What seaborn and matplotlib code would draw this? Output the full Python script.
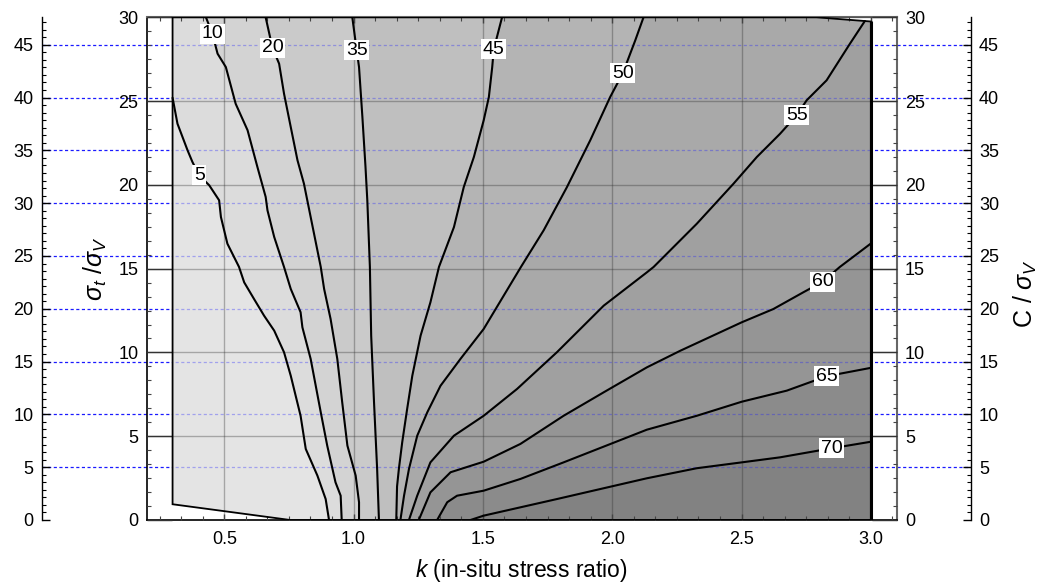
import numpy as np
import matplotlib
matplotlib.use("Agg")
import matplotlib.pyplot as plt
import seaborn as sns
from matplotlib.patches import Polygon
from matplotlib.ticker import MultipleLocator, FixedLocator
from matplotlib.transforms import blended_transform_factory

# ---------------- data ----------------
LEVELS = [5, 10, 20, 35, 45, 50, 55, 60, 65, 70]

C05_K = [0.300, 0.319, 0.358, 0.377, 0.403, 0.442, 0.480, 0.487, 0.512, 0.557, 0.577,
         0.615, 0.654, 0.693, 0.731, 0.757, 0.795, 0.815, 0.860, 0.892, 0.905]
C05_S = [25.20, 23.65, 22.06, 21.36, 20.57, 19.97, 19.08, 18.08, 16.49, 15.10, 14.18,
         13.19, 12.19, 11.30, 10.01, 8.61, 6.22, 4.24, 2.65, 1.25, 0.0]

C10_K = [0.429, 0.454, 0.474, 0.506, 0.544, 0.590, 0.628, 0.660, 0.667, 0.693, 0.731,
         0.757, 0.795, 0.802, 0.834, 0.873, 0.898, 0.930, 0.950, 0.954]
C10_S = [30.0, 29.02, 27.83, 27.03, 24.84, 23.26, 21.07, 19.28, 18.48, 16.89, 15.10,
         13.79, 12.40, 11.50, 9.61, 6.43, 4.44, 2.25, 1.45, 0.0]

C20_K = [0.660, 0.686, 0.712, 0.731, 0.757, 0.783, 0.808, 0.834, 0.873, 0.886, 0.911,
         0.937, 0.956, 0.976, 1.008, 1.021, 1.021]
C20_S = [30.0, 28.19, 27.23, 25.44, 23.45, 21.47, 20.07, 18.08, 15.10, 13.79, 12.00,
         9.61, 7.02, 4.44, 2.65, 1.06, 0.0]

C35_K = [0.995, 1.012, 1.021, 1.034, 1.046, 1.053, 1.063, 1.068, 1.079, 1.091, 1.098]
C35_S = [30.0, 28.03, 27.03, 24.05, 21.07, 19.08, 15.10, 11.00, 7.02, 3.04, 0.0]

C45_K = [1.574, 1.542, 1.536, 1.523, 1.503, 1.465, 1.426, 1.388, 1.330, 1.297, 1.259,
         1.227, 1.207, 1.188, 1.175, 1.168, 1.165]
C45_S = [30.0, 28.09, 27.03, 25.24, 23.85, 21.66, 19.87, 17.48, 15.10, 12.99, 11.00,
         8.61, 6.62, 4.64, 3.04, 2.00, 0.0]

C50_K = [2.121, 2.089, 2.041, 1.992, 1.915, 1.825, 1.735, 1.647, 1.503, 1.413, 1.336,
         1.285, 1.246, 1.214, 1.195, 1.181]
C50_S = [30.0, 28.62, 26.67, 25.24, 22.66, 19.87, 17.29, 15.10, 11.40, 9.61, 8.01,
         6.43, 5.03, 3.04, 1.45, 0.0]

C55_K = [2.977, 2.919, 2.829, 2.752, 2.713, 2.649, 2.559, 2.469, 2.327, 2.160, 2.134,
         1.967, 1.786, 1.632, 1.503, 1.388, 1.297, 1.246, 1.214]
C55_S = [29.78, 28.42, 26.24, 25.05, 24.15, 23.05, 21.66, 20.07, 17.68, 15.10, 14.78,
         12.79, 10.01, 7.82, 6.22, 5.03, 3.44, 1.45, 0.0]

C60_K = [3.000, 2.880, 2.814, 2.739, 2.623, 2.501, 2.263, 2.134, 1.967, 1.812, 1.645,
         1.503, 1.375, 1.297, 1.252]
C60_S = [16.50, 15.10, 14.22, 13.59, 12.59, 11.80, 10.10, 9.11, 7.62, 6.22, 4.54,
         3.48, 2.85, 1.65, 0.0]

C65_K = [3.000, 2.829, 2.675, 2.501, 2.327, 2.134, 1.812, 1.645, 1.503, 1.400, 1.362, 1.323]
C65_S = [9.08, 8.58, 7.72, 7.06, 6.22, 5.39, 3.44, 2.45, 1.75, 1.45, 1.06, 0.0]

C70_K = [3.000, 2.848, 2.649, 2.501, 2.327, 2.134, 1.786, 1.503, 1.452]
C70_S = [4.67, 4.28, 3.74, 3.44, 3.09, 2.49, 1.25, 0.26, 0.0]

# height (sigma_t/sigma_v) at which each contour carries its label
LABEL_S = [20.57, 29.02, 28.19, 28.03, 28.09, 26.67, 24.15, 14.22, 8.58, 4.28]

# outline of the computed region
DOMAIN_K = [0.30, 0.30, 2.79, 3.00, 3.00, 0.755]
DOMAIN_S = [0.94, 30.0, 30.0, 29.75, 0.0, 0.0]

X_TICKS = [0.5, 1.0, 1.5, 2.0, 2.5, 3.0]
X_LABELS = ["0.5", "1.0", "1.5", "2.0", "2.5", "3.0"]
Y_TICKS = [0, 5, 10, 15, 20, 25, 30]
C_TICKS = [0, 5, 10, 15, 20, 25, 30, 35, 40, 45]

# shading of the bands (lowest band first)
BAND_GREYS = ["#e4e4e4", "#dcdcdc", "#d3d3d3", "#cacaca", "#bfbfbf", "#b4b4b4",
              "#a9a9a9", "#a0a0a0", "#959595", "#8b8b8b", "#828282"]

LINES_K = [C05_K, C10_K, C20_K, C35_K, C45_K, C50_K, C55_K, C60_K, C65_K, C70_K]
LINES_S = [C05_S, C10_S, C20_S, C35_S, C45_S, C50_S, C55_S, C60_S, C65_S, C70_S]

# ---------------- style ----------------
sns.set_theme(style="white")
plt.rcParams["font.family"] = ["Liberation Sans", "DejaVu Sans"]
plt.rcParams["mathtext.fontset"] = "custom"
plt.rcParams["mathtext.rm"] = "Liberation Sans"
plt.rcParams["mathtext.it"] = "Liberation Sans:italic"
plt.rcParams["mathtext.bf"] = "Liberation Sans:bold"
plt.rcParams["axes.unicode_minus"] = False

TICK_FS = 13
W, H = 1044, 588
fig = plt.figure(figsize=(W / 100, H / 100), dpi=100)
fig.patch.set_facecolor("white")


def frac(x0, y0, x1, y1):
    return [x0 / W, 1 - y1 / H, (x1 - x0) / W, (y1 - y0) / H]


outer = fig.add_axes(frac(41.7, 17.3, 970.7, 520), zorder=1)
ax = fig.add_axes(frac(146.7, 17.3, 896.7, 520), zorder=2)

# ---------------- outer C/sigma_v scale ----------------
outer.set_facecolor("white")
outer.set_xlim(0, 1)
outer.set_ylim(0, 47.6)
outer.xaxis.set_visible(False)
for side in ["top", "bottom"]:
    outer.spines[side].set_visible(False)
for side in ["left", "right"]:
    outer.spines[side].set_visible(True)
    outer.spines[side].set_color("black")
    outer.spines[side].set_linewidth(1.0)
outer.yaxis.set_major_locator(FixedLocator(C_TICKS))
outer.yaxis.set_minor_locator(MultipleLocator(5 / 7))
outer.tick_params(axis="y", which="both", direction="in", left=True, right=True,
                  labelleft=True, labelright=True, colors="black", labelsize=TICK_FS, pad=6)
outer.tick_params(axis="y", which="major", length=5.8, width=1.0)
outer.tick_params(axis="y", which="minor", length=2.9, width=0.8)
dash = (0, (2.5, 2.0))
for v in C_TICKS[1:]:
    outer.axhline(v, color="#1a1aff", lw=0.9, ls=dash, zorder=0.5)
outer.set_ylabel("C / $\\sigma_V$", fontsize=18, color="black")
outer.yaxis.set_label_position("right")
outer.yaxis.set_label_coords(1.044, 0.45)

# ---------------- main contour map ----------------
ax.set_facecolor("none")

dom = Polygon(np.column_stack([DOMAIN_K, DOMAIN_S]), closed=True,
              fc=BAND_GREYS[0], ec="none", zorder=1)
ax.add_patch(dom)


def higher_side(k, s):
    k = list(k)
    s = list(s)
    if k[0] <= 0.31:
        pre = [(-5, 40), (-5, s[0])]
    elif s[0] >= 29.5 and k[0] < 2.99:
        pre = [(k[0], 40)]
    else:
        pre = [(10, s[0])]
    return pre + list(zip(k, s)) + [(k[-1], -10), (10, -10), (10, 40)]


for i, (k, s) in enumerate(zip(LINES_K, LINES_S)):
    p = Polygon(higher_side(k, s), closed=True, fc=BAND_GREYS[i + 1], ec="none",
                zorder=1 + 0.01 * (i + 1))
    ax.add_patch(p)
    p.set_clip_path(dom)

tr = blended_transform_factory(ax.transAxes, outer.transData)
for v in C_TICKS[1:]:
    ln, = ax.plot([0, 1], [v, v], transform=tr, color="#1a1aff", alpha=0.33,
                  lw=0.9, ls=dash, zorder=1.5)
    ln.set_clip_path(dom)

ax.add_patch(Polygon(np.column_stack([DOMAIN_K, DOMAIN_S]), closed=True, fill=False,
                     ec="black", lw=1.3, zorder=3))
ax.plot(DOMAIN_K[3:5], DOMAIN_S[3:5], color="black", lw=2.2, zorder=3,
        solid_capstyle="butt")

for k, s in zip(LINES_K, LINES_S):
    sns.lineplot(x=k, y=s, sort=False, estimator=None, color="black", lw=1.5,
                 ax=ax, zorder=3)

for lvl, k, s, ls in zip(LEVELS, LINES_K, LINES_S, LABEL_S):
    kk = np.interp(ls, s[::-1], k[::-1])
    ax.text(kk, ls, str(lvl), ha="center", va="center", fontsize=14, color="black",
            bbox=dict(boxstyle="square,pad=0.08", fc="white", ec="none"), zorder=4)

ax.set_xlim(0.2, 3.1)
ax.set_ylim(0, 30)
ax.set_axisbelow(False)
ax.xaxis.set_major_locator(FixedLocator(X_TICKS))
ax.set_xticklabels(X_LABELS)
ax.xaxis.set_minor_locator(MultipleLocator(1 / 12))
ax.yaxis.set_major_locator(FixedLocator(Y_TICKS))
ax.yaxis.set_minor_locator(MultipleLocator(5 / 6))
ax.grid(True, which="major", color="#303030", alpha=0.35, lw=1.0)
ax.tick_params(axis="both", which="both", direction="in", top=True, right=True,
               bottom=True, left=True, labelsize=TICK_FS, labelcolor="black")
ax.tick_params(axis="y", which="major", length=18, width=1.0, color="#333333",
               labelright=True, pad=6)
ax.tick_params(axis="x", which="major", length=4, width=1.0, color="#444444", pad=8)
ax.tick_params(which="minor", length=3, width=0.8, color="#444444")
for side in ["left", "bottom"]:
    ax.spines[side].set_color("black")
    ax.spines[side].set_linewidth(1.2)
for side in ["top", "right"]:
    ax.spines[side].set_color("#666666")
    ax.spines[side].set_linewidth(1.5)

ax.set_xlabel(r"$k$ (in-situ stress ratio)", fontsize=16.5, color="black")
ax.xaxis.set_label_coords(0.5, -0.074)
ax.set_ylabel(r"$\sigma_t\ /\sigma_V$", fontsize=18, color="black")
ax.yaxis.set_label_coords(-0.05, 0.5)

fig.savefig("out.png", dpi=100)
